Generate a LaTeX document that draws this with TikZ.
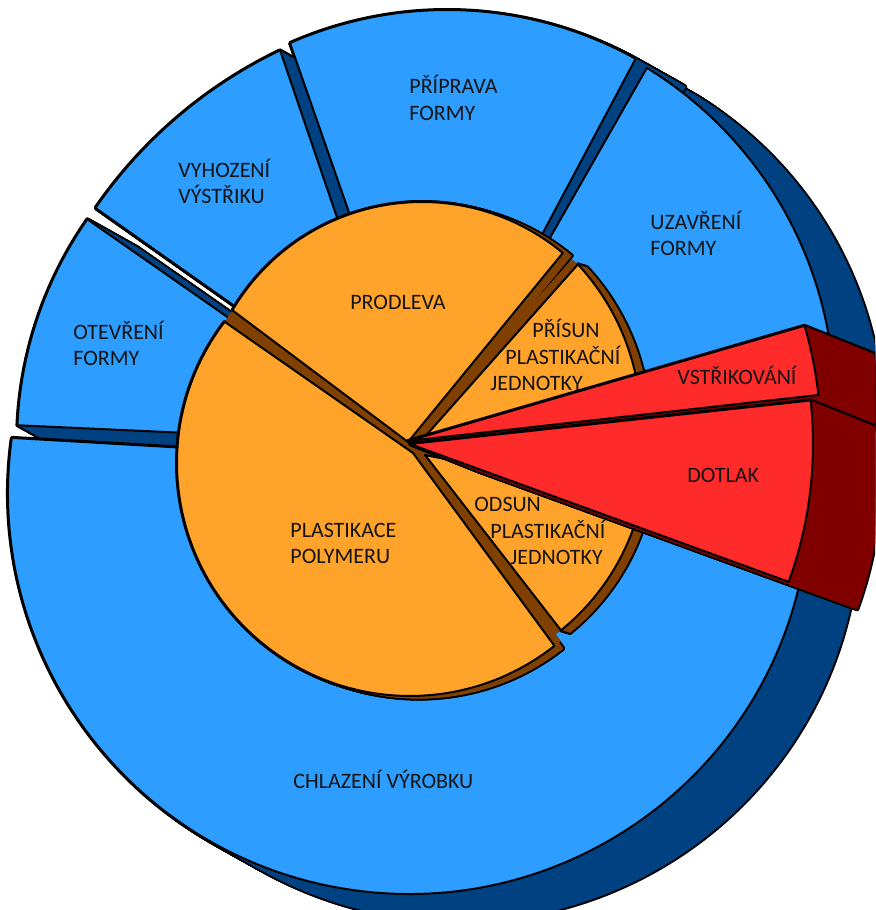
\documentclass[tikz,border=0pt]{standalone}
\usepackage{fontspec}
\setmainfont{Carlito}

\definecolor{ringblue}{RGB}{45,158,255}
\definecolor{ringblueside}{RGB}{0,65,130}
\definecolor{pieorange}{RGB}{255,163,43}
\definecolor{pieorangeside}{RGB}{128,64,0}
\definecolor{piered}{RGB}{255,43,43}
\definecolor{pieredside}{RGB}{128,0,0}
\definecolor{labeltext}{RGB}{20,20,20}

% slice outline and its two straight edges: apex, arc centre, start, end, radius
\newcommand{\slice}[5]{(#1) -- ([shift={(#2)}]#3:#5) arc[start angle=#3, end angle=#4, radius=#5] -- cycle}
\newcommand{\spokes}[5]{([shift={(#2)}]#3:#5) -- (#1) -- ([shift={(#2)}]#4:#5)}

% outer ring
\newcommand{\uzavreni}[1]{#1{446,490}{441.5,507}{0}{58.5}{393}}
\newcommand{\priprava}[1]{#1{430,465}{447,511}{61}{113.8}{389}}
\newcommand{\vyhozeni}[1]{#1{409,481}{484,434}{115.6}{145.4}{472}}
\newcommand{\otevreni}[1]{#1{408,467}{408,467}{145.1}{177.4}{391}}
\newcommand{\chlazeni}[1]{#1{412,449}{409,417}{172.1}{350}{401}}
% inner pie
\newcommand{\prodleva}[1]{#1{408,468}{422,488}{50.2}{149.5}{220}}
\newcommand{\plastikace}[1]{#1{413,457}{410,447}{142.7}{308.3}{233}}
\newcommand{\prisun}[1]{#1{422,470}{405,485}{5}{42.9}{236}}
\newcommand{\odsun}[1]{#1{425,455}{415,460}{-51}{-12}{232}}
% injection
\newcommand{\vstrikovani}[1]{#1{408,469}{408,469}{6.4}{16.2}{413}}
\newcommand{\dotlak}[1]{#1{410,466}{410,466}{-20}{6.2}{403}}

\begin{document}
\begin{tikzpicture}[x=0.5pt,y=0.5pt,
    face/.style={draw=black,line width=1pt,line join=round},
    rim/.style={fill=black,draw=black,line width=2pt,line join=round},
    blueside/.style={fill=ringblueside,shift={(#1*50,-#1*28)}},
    orangeside/.style={fill=pieorangeside,shift={(#1*10,-#1*3)}},
    redside/.style={fill=pieredside,shift={(#1*70,-#1*28)}},
    slicetext/.style={font=\fontsize{11}{13.25}\selectfont,text=labeltext,align=left,anchor=west,inner sep=0pt}]
  \clip (0,0) rectangle (875,910);

  % outer ring
  \foreach \piece in {\uzavreni,\priprava,\vyhozeni,\otevreni,\chlazeni} {
    \foreach \t in {0,0.025,...,1} \filldraw[blueside=\t,rim] \piece\slice;
    \foreach \t in {0,0.025,...,1} \fill[blueside=\t] \piece\slice;
  }
  \foreach \piece in {\uzavreni,\priprava,\vyhozeni,\otevreni,\chlazeni}
    \filldraw[face,fill=ringblue] \piece\slice;

  % inner pie
  \foreach \piece in {\prodleva,\prisun,\plastikace,\odsun} {
    \foreach \t in {0,0.1,...,1} \filldraw[orangeside=\t,rim] \piece\slice;
    \foreach \t in {0,0.1,...,1} \fill[orangeside=\t] \piece\slice;
  }
  \foreach \piece in {\prodleva,\prisun,\plastikace,\odsun}
    \draw[pieorangeside,line width=8pt,line join=round] \piece\spokes;
  \foreach \piece in {\prodleva,\prisun,\plastikace,\odsun}
    \filldraw[face,fill=pieorange] \piece\slice;

  % injection and holding pressure
  \foreach \piece in {\vstrikovani,\dotlak} {
    \foreach \t in {0,0.02,...,1} \filldraw[redside=\t,rim] \piece\slice;
    \foreach \t in {0,0.02,...,1} \fill[redside=\t] \piece\slice;
  }
  \foreach \piece in {\vstrikovani,\dotlak}
    \filldraw[face,fill=piered] \piece\slice;

  % labels
  \node[slicetext] (priprava) at (409,812) {PŘÍPRAVA\\FORMY};
  \node[slicetext] (vyhozeni) at (178,728.5) {VYHOZENÍ\\VÝSTŘIKU};
  \node[slicetext] (uzavreni) at (650,676.5) {UZAVŘENÍ\\FORMY};
  \node[slicetext] (otevreni) at (73,566.5) {OTEVŘENÍ\\FORMY};
  \node[slicetext,anchor=center] (prodleva) at (398,608) {PRODLEVA};
  \node[slicetext] (prisun) at (490,555) {\hspace*{21pt}PŘÍSUN\\\hspace*{7.5pt}PLASTIKAČNÍ\\JEDNOTKY};
  \node[slicetext] (odsun) at (474,379) {ODSUN\\\hspace*{8pt}PLASTIKAČNÍ\\\hspace*{18pt}JEDNOTKY};
  \node[slicetext] (plastikace) at (290,366.5) {PLASTIKACE\\POLYMERU};
  \node[slicetext] (chlazeni) at (293,131) {CHLAZENÍ VÝROBKU};
  \node[slicetext] (vstrikovani) at (677,535) {VSTŘIKOVÁNÍ};
  \node[slicetext] (dotlak) at (687,435) {DOTLAK};
\end{tikzpicture}
\end{document}
